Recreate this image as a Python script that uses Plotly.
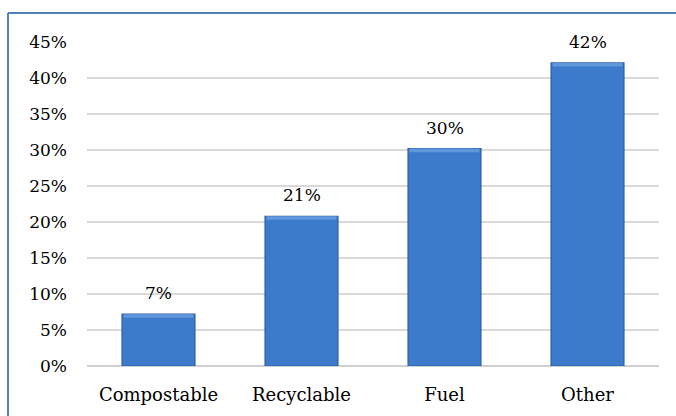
import plotly.graph_objects as go

categories = ["Compostable", "Recyclable", "Fuel", "Other"]
values = [0.072, 0.208, 0.302, 0.421]
labels = ["7%", "21%", "30%", "42%"]
tick_vals = [0, 0.05, 0.10, 0.15, 0.20, 0.25, 0.30, 0.35, 0.40, 0.45]
tick_text = ["0%", "5%", "10%", "15%", "20%", "25%", "30%", "35%", "40%", "45%"]

FONT = "DejaVu Serif"
FS = 17

fig = go.Figure()
fig.add_trace(go.Bar(
    x=categories, y=values,
    width=0.51,
    marker=dict(color="#3c7acb", line=dict(color="#2c5e9f", width=1.2)),
    hoverinfo="skip",
))
# subtle highlight strip along the top of each bar (bevel look)
fig.add_trace(go.Bar(
    x=categories, y=[0.005] * len(values), base=[v - 0.005 for v in values],
    width=0.49,
    marker=dict(color="#5f96dc", line=dict(width=0)),
    hoverinfo="skip",
))

for c, v, t in zip(categories, values, labels):
    fig.add_annotation(x=c, y=v, text=t, showarrow=False, yanchor="bottom",
                       yshift=9, font=dict(family=FONT, size=FS, color="#000"))

fig.update_layout(
    width=676, height=416,
    margin=dict(l=87, r=17, t=42, b=50),
    paper_bgcolor="white", plot_bgcolor="white",
    barmode="overlay",
    showlegend=False,
    font=dict(family=FONT, size=FS, color="#000"),
    xaxis=dict(showgrid=False, showline=False, ticks="", ticklabelstandoff=16,
               tickfont=dict(family=FONT, size=18)),
    yaxis=dict(range=[0, 0.45], tickvals=tick_vals, ticktext=tick_text,
               showgrid=True, gridcolor="#d9d9d9", gridwidth=1.5,
               zeroline=True, zerolinecolor="#d0d0d0", zerolinewidth=2,
               showline=False, ticks="", ticklabelstandoff=19,
               tickfont=dict(family=FONT, size=FS)),
    shapes=[
        dict(type="line", xref="paper", yref="paper",
             x0=(8 - 87) / 572, x1=(8 - 87) / 572, y0=-0.5, y1=1 + (42 - 13) / 324,
             line=dict(color="#4f81bd", width=2)),
        dict(type="line", xref="paper", yref="paper",
             x0=(8 - 87) / 572, x1=1.5, y0=1 + (42 - 13) / 324, y1=1 + (42 - 13) / 324,
             line=dict(color="#4f81bd", width=2)),
    ],
)

fig.write_html("out.html")
